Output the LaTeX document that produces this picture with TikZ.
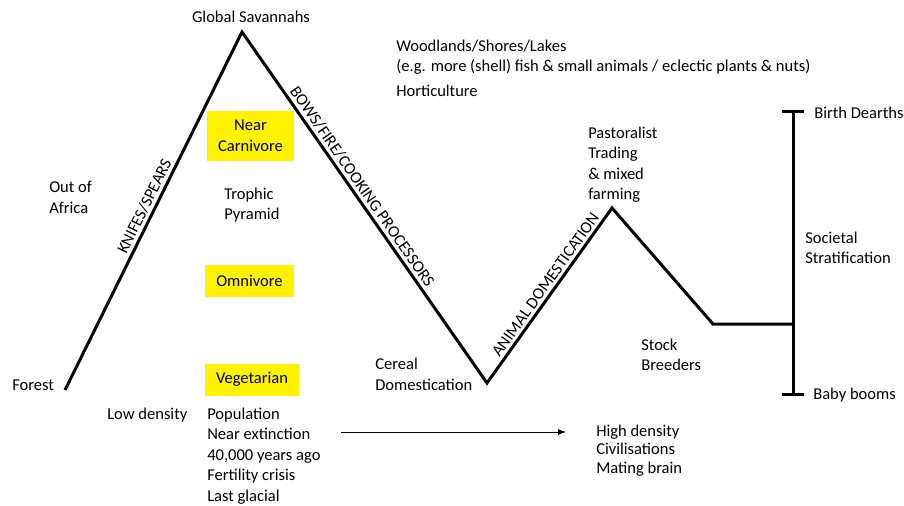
\documentclass[tikz,border=0pt]{standalone}
\usepackage{fontspec}
\setmainfont{Carlito}
\usetikzlibrary{arrows.meta}

\tikzset{
  txt/.style={inner sep=0pt, anchor=west, align=left, font=\fontsize{12.4}{15.4}\selectfont},
  tag/.style={fill=yellow, inner sep=0pt, minimum height=24pt, align=center, font=\fontsize{12.4}{15.4}\selectfont},
  tool/.style={sloped, above, inner sep=2pt, font=\fontsize{12.4}{15}\selectfont},
  trend/.style={line width=2.25pt, line join=miter},
}

\begin{document}
\begin{tikzpicture}[x=0.75pt, y=-0.75pt]
      \useasboundingbox (0,0) rectangle (904,506);

      % Turning points
      \coordinate (forest) at (65,390);
      \coordinate (savanna) at (242,32);
      \coordinate (cereal) at (487,383);
      \coordinate (pastoral) at (612,208);
      \coordinate (stock) at (713,324);
      \coordinate (strat) at (793,324);
      \coordinate (dearth) at (793,112);
      \coordinate (boom) at (793,394);

      % Trend line with tools
      \draw[trend] (forest) -- (savanna) node[tool, pos=.50] {KNIFES/SPEARS}
        -- (cereal) node[tool, pos=.457] {BOWS/FIRE/COOKING PROCESSORS}
        -- (pastoral) node[tool, pos=.53] {ANIMAL DOMESTICATION}
        -- (stock) -- (strat);

      % Stratification bar
      \draw[trend] (dearth) -- (boom);
      \draw[trend] ([xshift=-8.25pt]dearth) -- ([xshift=8.25pt]dearth);
      \draw[trend] ([xshift=-8.25pt]boom) -- ([xshift=8.25pt]boom);

      % Diet levels
      \node[tag, minimum width=65pt, minimum height=38pt] (carni) at (250.5,136) {Near\\Carnivore};
      \node[tag, minimum width=67pt] (omni) at (249.5,281) {Omnivore};
      \node[tag, minimum width=70.5pt] (veg) at (252,379.5) {Vegetarian};
      \node[txt] (trophic) at (224,205) {Trophic\\Pyramid};

      % Stages
      \node[txt, anchor=center] (savtxt) at (251,17) {Global Savannahs};
      \node[txt] (woods) at (396,68) {Woodlands/Shores/Lakes\\(e.g. more (shell) fish \& small animals / eclectic plants \& nuts)\\[3pt]Horticulture};
      \node[txt] (africa) at (49,197.5) {Out of\\Africa};
      \node[txt] (foresttxt) at (12,385) {Forest};
      \node[txt] (cereatxt) at (375,374.5) {Cereal\\Domestication};
      \node[txt] (pasttxt) at (588,164.5) {Pastoralist\\Trading\\\& mixed\\farming};
      \node[txt] (stocktxt) at (641,355) {Stock\\Breeders};
      \node[txt] (birth) at (814,113) {Birth Dearths};
      \node[txt] (society) at (805,248) {Societal\\Stratification};
      \node[txt] (baby) at (813,395) {Baby booms};

      % Population density
      \node[txt] (low) at (107,415) {Low density};
      \node[txt] (popu) at (207,456) {Population\\Near extinction\\40,000 years ago\\Fertility crisis\\Last glacial};
      \node[txt, font=\fontsize{12.4}{14}\selectfont] (high) at (596,450.5) {High density\\Civilisations\\Mating brain};
      \coordinate (arrS) at (341,432);
      \coordinate (arrE) at (566,432);
      \draw[line width=0.75pt, -{Latex[length=6pt, width=4.5pt]}] (arrS) -- (arrE);
    \end{tikzpicture}
\end{document}
